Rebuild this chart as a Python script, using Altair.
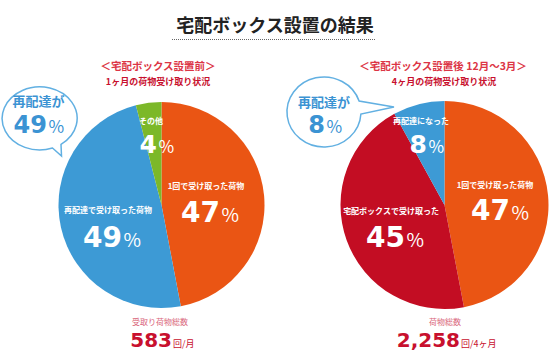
import altair as alt
import pandas as pd

# ---- data ----
title_text = "宅配ボックス設置の結果"
before_title = "＜宅配ボックス設置前＞"
before_sub = "1ヶ月の荷物受け取り状況"
after_title = "＜宅配ボックス設置後 12月～3月＞"
after_sub = "4ヶ月の荷物受け取り状況"

before_labels = ["1回で受け取った荷物", "再配達で受け取った荷物", "その他"]
before_values = [47, 49, 4]
before_colors = ["#ea5514", "#3d9ad5", "#7cb829"]

after_labels = ["1回で受け取った荷物", "宅配ボックスで受け取った", "再配達になった"]
after_values = [47, 45, 8]
after_colors = ["#ea5514", "#c30d23", "#3d9ad5"]

callout_text = "再配達が"
before_redelivery = 49
after_redelivery = 8

before_total_label = "受取り荷物総数"
before_total = "583"
before_unit = "回/月"
after_total_label = "荷物総数"
after_total = "2,258"
after_unit = "回/4ヶ月"

JP = "Noto Sans CJK JP"
NUM = "DejaVu Sans"
RED = "#c8102e"
SUBRED = "#dc3545"
BLUE = "#3b93d3"

def dummy():
    return alt.Data(values=[{}])

def txt(s, x, y, size, color, weight="bold", align="center", baseline="middle", font=JP):
    return alt.Chart(dummy()).mark_text(
        text=s, fontSize=size, color=color, fontWeight=weight, align=align,
        baseline=baseline, font=font
    ).encode(x=alt.value(x), y=alt.value(y))

def pct(value, x_right, y_base, size, color, psize):
    return [
        txt(str(value), x_right, y_base, size, color, align="right", baseline="alphabetic", font=NUM),
        txt("%", x_right + 1.5, y_base, psize, color, weight="normal", align="left", baseline="alphabetic", font=JP),
    ]

def pie(labels, values, colors, cx, cy, r):
    df = pd.DataFrame({"label": labels, "value": values, "color": colors, "order": list(range(len(values)))})
    return alt.Chart(df).mark_arc(outerRadius=r).encode(
        theta=alt.Theta("value:Q", stack=True),
        color=alt.Color("color:N", scale=None),
        order=alt.Order("order:Q"),
        x=alt.value(cx), y=alt.value(cy),
    )

def bubble(path, cx, cy):
    return alt.Chart(dummy()).mark_point(
        shape=path, size=4, filled=True, fill="white", stroke="#62b0e2",
        strokeWidth=1.5, opacity=1, fillOpacity=1, strokeOpacity=1
    ).encode(x=alt.value(cx), y=alt.value(cy))

layers = []
# title
layers.append(txt(title_text, 275, 27, 18, "#222222"))
layers.append(alt.Chart(dummy()).mark_rule(color="#666666", strokeDash=[1, 1], strokeWidth=1).encode(
    x=alt.value(172), x2=alt.value(376), y=alt.value(39.5)))
# subtitles
layers.append(txt(before_title, 158, 67, 10.5, SUBRED))
layers.append(txt(before_sub, 158, 82, 9, RED))
layers.append(txt(after_title, 443, 67, 10.5, SUBRED))
layers.append(txt(after_sub, 444, 82, 9, RED))

# pies
layers.append(pie(before_labels, before_values, before_colors, 161.5, 205, 103))
layers.append(pie(after_labels, after_values, after_colors, 444.5, 205, 104))

# left pie labels
layers.append(txt(before_labels[2], 151, 122, 8, "white"))
layers += pct(before_values[2], 157, 153, 25, "white", 17)
layers.append(txt(before_labels[0], 206, 187, 8, "white"))
layers += pct(before_values[0], 220, 222, 28, "white", 19)
layers.append(txt(before_labels[1], 108, 211, 8, "white"))
layers += pct(before_values[1], 122, 247, 28, "white", 19)

# right pie labels
layers.append(txt(after_labels[2], 421, 122, 8, "white"))
layers += pct(after_values[2], 427, 153, 25, "white", 17)
layers.append(txt(after_labels[0], 495, 186, 8, "white"))
layers += pct(after_values[0], 510, 220, 28, "white", 19)
layers.append(txt(after_labels[1], 391, 212, 8, "white"))
layers += pct(after_values[1], 405, 247, 28, "white", 19)

# callout bubbles
layers.append(bubble("M 13 29.5 A 37.5 31.5 0 1 1 21.5 25.8 L 22 37.5 Z", 39.5, 118.5))
layers.append(txt(callout_text, 38.5, 102, 13, BLUE))
layers += pct(before_redelivery, 47, 133, 24, BLUE, 17)
layers.append(bubble("M 36.9 2 A 37 35 0 1 1 35.1 -11 L 70 -5 Z", 324, 112))
layers.append(txt(callout_text, 324, 103, 13, BLUE))
layers += pct(after_redelivery, 325, 133, 24, BLUE, 17)

# totals
layers.append(txt(before_total_label, 160, 323, 8, "#d9657a", weight="normal"))
layers.append(txt(before_total, 172, 347, 20, RED, weight="bold", align="right", baseline="alphabetic", font=NUM))
layers.append(txt(before_unit, 173, 347, 9, RED, weight="normal", align="left", baseline="alphabetic"))
layers.append(txt(after_total_label, 445, 323, 8, "#d9657a", weight="normal"))
layers.append(txt(after_total, 460, 347, 20, RED, weight="bold", align="right", baseline="alphabetic", font=NUM))
layers.append(txt(after_unit, 461, 347, 9, RED, weight="normal", align="left", baseline="alphabetic"))

chart = alt.layer(*layers).resolve_scale(theta="independent").properties(
    width=550, height=351, autosize="none", padding=0, background="white"
).configure_view(stroke=None)

chart.save("out.html", embed_options={"renderer": "svg", "actions": False})
